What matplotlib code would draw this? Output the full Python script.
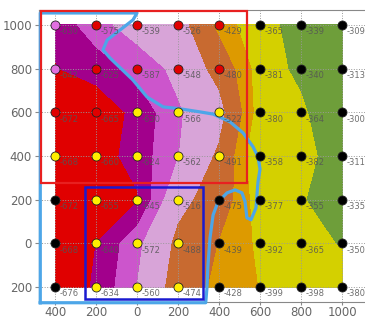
import numpy as np
import matplotlib.pyplot as plt
from matplotlib.patches import Rectangle

# grid positions
xs = [-400, -200, 0, 200, 400, 600, 800, 1000]
ys = [1000, 800, 600, 400, 200, 0, -200]

# measured values, one row per y (top to bottom)
vals = [
    [-630, -575, -539, -526, -429, -365, -339, -309],
    [-642, -625, -587, -548, -480, -381, -340, -313],
    [-672, -665, -630, -566, -522, -380, -364, -300],
    [-668, -660, -624, -562, -491, -358, -382, -311],
    [-672, -655, -645, -516, -475, -377, -355, -335],
    [-668, -640, -572, -488, -439, -392, -365, -350],
    [-676, -634, -560, -474, -428, -399, -398, -380],
]

# marker colour class per point
mk = [
    "VRRRRKKK",
    "VRRRRKKK",
    "RRYYYKKK",
    "YYYYYKKK",
    "KYYYKKKK",
    "KYYYKKKK",
    "KYYYKKKK",
]
mk_colors = {"V": "#e070e0", "R": "#e00000", "Y": "#ffee00", "K": "#000000"}

levels = [-700, -640, -600, -560, -500, -440, -400, -352, -290]
fill_colors = ["#e00000", "#a2008c", "#cc55cc", "#d8a4d8",
               "#c86a30", "#dd9a00", "#d4d000", "#6e9e3a"]

xtick_labels = ["400", "200", "0", "200", "400", "600", "800", "1000"]
ytick_labels = ["1000", "800", "600", "400", "200", "0", "200"]

# outline of the light blue zone
zone_x = [-472, -472, 0, -20, -146, -166, -132, -20, 49, 127, 210, 307, 371,
          454, 517, 566, 590, 600, 590, 580, 556, 536, 527, 512, 478, 439,
          395, 371, 356, 346, 341, 335, -472]
zone_y = [-272, 1055, 1055, 1023, 931, 886, 849, 748, 670, 625, 616, 602, 592,
          556, 506, 442, 396, 340, 281, 162, 108, 117, 190, 231, 245, 231,
          190, 130, 25, -98, -204, -272, -272]

fig = plt.figure(figsize=(3.65, 3.2), dpi=100)
ax = fig.add_axes([0.107, 0.056, 0.893, 0.913])

Z = np.array(vals, dtype=float)
ax.contourf(xs, ys[::-1], Z[::-1], levels=levels, colors=fill_colors, zorder=1)

ax.set_xlim(-478, 1112)
ax.set_ylim(-269, 1069)
ax.set_xticks(xs)
ax.set_xticklabels(xtick_labels)
ax.set_yticks(ys)
ax.set_yticklabels(ytick_labels)

tick_font = ["Liberation Sans Narrow", "DejaVu Sans"]
for lab in ax.get_xticklabels() + ax.get_yticklabels():
    lab.set_family(tick_font)
    lab.set_fontsize(8.5)
    lab.set_color("#666666")
ax.tick_params(axis="y", length=3, color="#888888", pad=2)
ax.tick_params(axis="x", length=2, color="#888888", pad=1)

ax.grid(True, linestyle=":", color="#999999", linewidth=0.7)
ax.set_axisbelow(False)

for side in ["top", "bottom", "left"]:
    ax.spines[side].set_color("#888888")
ax.spines["right"].set_visible(False)

# zones
ax.plot(zone_x, zone_y, color="#4da6e8", linewidth=2.3, zorder=3,
        clip_on=False, solid_joinstyle="round")
ax.add_patch(Rectangle((-468, 277), 1005, 787, fill=False, edgecolor="#e82020",
                       linewidth=1.6, zorder=3, clip_on=False))
ax.add_patch(Rectangle((-254, -254), 574, 513, fill=False, edgecolor="#1a1ad0",
                       linewidth=1.8, zorder=3))

# points and labels
for i, y in enumerate(ys):
    for j, x in enumerate(xs):
        ax.plot(x, y, "o", markersize=6.5, markerfacecolor=mk_colors[mk[i][j]],
                markeredgecolor="#222222", markeredgewidth=0.6, zorder=4)
        ax.annotate(str(vals[i][j]), (x, y), xytext=(3.6, -5),
                    textcoords="offset points", fontsize=6, va="center",
                    ha="left", color="#555555", alpha=0.85,
                    family=tick_font, zorder=5)

fig.savefig("out.png", dpi=100)
